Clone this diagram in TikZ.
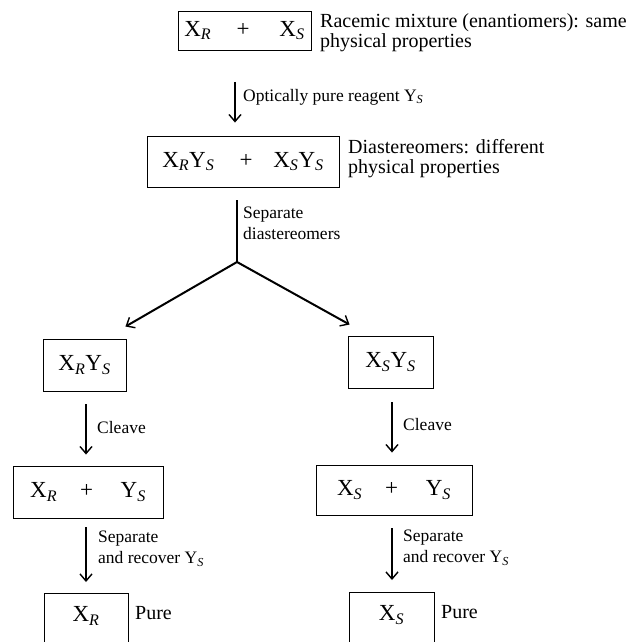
\documentclass[tikz,border=0pt]{standalone}
\usepackage{fontspec}
\setmainfont{Liberation Serif}
\usetikzlibrary{arrows.meta}
% subscript in italic, as in X_R
\newcommand{\chsub}[1]{\textsubscript{\textit{#1}}}
\begin{document}
\begin{tikzpicture}[x=1pt,y=-1pt,
  box/.style={draw, line width=0.9pt, inner sep=0pt, font=\fontsize{23}{25}\selectfont},
  side/.style={anchor=north west, align=left, inner sep=0pt, font=\fontsize{20}{20}\selectfont},
  lab/.style={anchor=west, align=left, inner sep=0pt, font=\fontsize{17.5}{21}\selectfont},
  flow/.style={line width=2pt, -{Straight Barb[length=7pt,width=12pt,line width=1.4pt]}},
  stem/.style={line width=2pt},
]
\clip (0,0) rectangle (637,642);

% racemic mixture
\node[box, minimum width=133pt, minimum height=39pt] (mix) at (244.5,30.5)
  {X\chsub{R}\hspace{1.1em}+\hspace{1.3em}X\chsub{S}};
\node[side] (mixlab) at (320,13) {Racemic mixture (enantiomers): same\\physical properties};

% diastereomer pair
\node[box, minimum width=192pt, minimum height=51pt] (dia) at (243,161.5)
  {X\chsub{R}Y\chsub{S}\hspace{1.1em}+\hspace{0.9em}X\chsub{S}Y\chsub{S}};
\node[side] (dialab) at (348,139) {Diastereomers: different\\physical properties};

\draw[flow] ([xshift=-9.5pt,yshift=-31.5pt]mix.south) -- ([xshift=-8pt,yshift=13pt]dia.north);
\node[lab] (reag) at (243,97) {Optically pure reagent Y\textsubscript{\textit{S}}};

% separation fork
\coordinate (fork) at (237,262);
\draw[stem] ([xshift=-6pt,yshift=-13pt]dia.south) -- (fork);
\node[lab, anchor=north west] (seplab) at (243,207) {Separate\\diastereomers};

% separated diastereomers
\node[box, minimum width=83pt, minimum height=52pt] (xrys) at (84.5,365) {X\chsub{R}Y\chsub{S}};
\node[box, minimum width=85pt, minimum height=52pt] (xsys) at (390.5,362) {X\chsub{S}Y\chsub{S}};

\draw[flow] (fork) -- ([xshift=-1pt,yshift=12pt]xrys.north east);
\draw[flow] (fork) -- ([xshift=2pt,yshift=11pt]xsys.north west);

% cleaved products
\node[box, minimum width=150pt, minimum height=52pt] (rys) at (88,492)
  {X\chsub{R}\hspace{1em}+\hspace{1.2em}Y\chsub{S}};
\node[box, minimum width=156pt, minimum height=50pt] (sys) at (394,490)
  {X\chsub{S}\hspace{1em}+\hspace{1.2em}Y\chsub{S}};

\draw[flow] ([xshift=1.5pt,yshift=-13pt]xrys.south) -- ([xshift=-2pt,yshift=11pt]rys.north);
\node[lab] (cleaveR) at (97,428) {Cleave};
\draw[flow] ([xshift=1.5pt,yshift=-14pt]xsys.south) -- ([xshift=-2pt,yshift=12pt]sys.north);
\node[lab] (cleaveS) at (403,425) {Cleave};

% pure enantiomers
\node[box, anchor=north, minimum width=84pt, text height=24pt, text depth=45pt,
      inner ysep=4pt] (xr) at (86,593) {X\chsub{R}};
\node[box, anchor=north, minimum width=85pt, text height=24pt, text depth=45pt,
      inner ysep=4pt] (xs) at (391.5,592) {X\chsub{S}};
\node[side, anchor=west] (pureR) at (135,613) {Pure};
\node[side, anchor=west] (pureS) at (441,612) {Pure};

\draw[flow] ([xshift=-2pt,yshift=-9pt]rys.south) -- ([yshift=11pt]xr.north);
\node[lab, anchor=north west] (recR) at (98,531) {Separate\\and recover Y\textsubscript{\textit{S}}};
\draw[flow] ([xshift=-2pt,yshift=-13pt]sys.south) -- ([xshift=0.5pt,yshift=12pt]xs.north);
\node[lab, anchor=north west] (recS) at (403,530) {Separate\\and recover Y\textsubscript{\textit{S}}};
\end{tikzpicture}
\end{document}
